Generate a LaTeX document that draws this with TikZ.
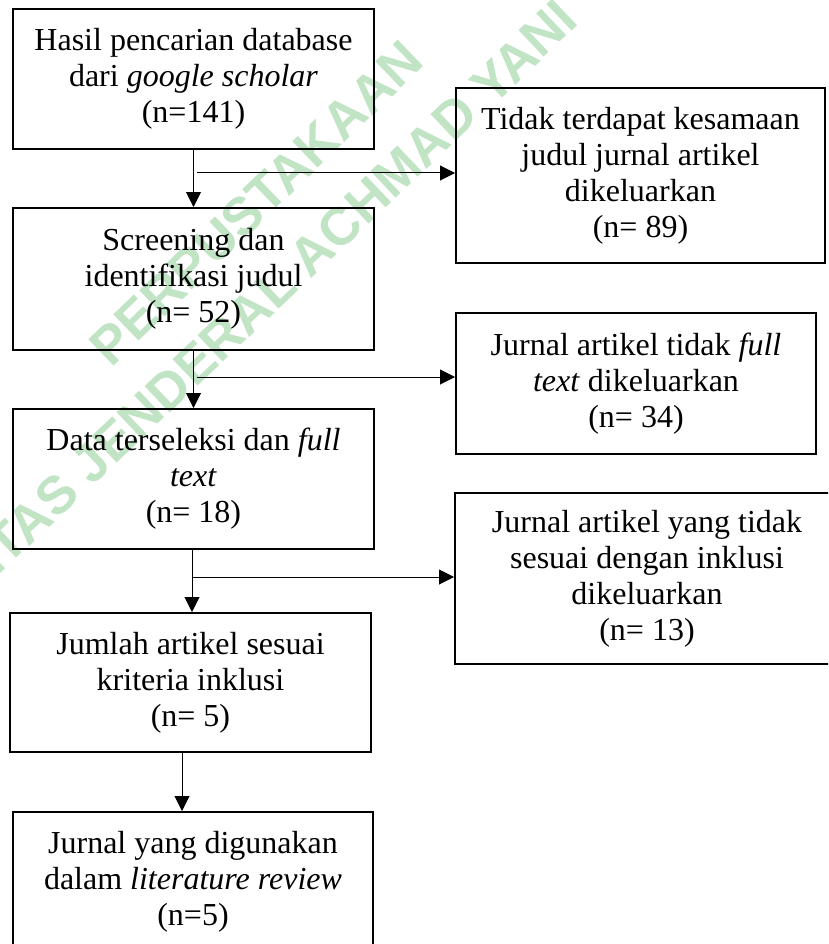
\documentclass[tikz,border=0pt]{standalone}
\usepackage{fontspec}
\setmainfont{Liberation Serif}
\newfontfamily\wmfont{Liberation Sans}
\usetikzlibrary{arrows.meta,calc}
\definecolor{wmgreen}{RGB}{192,228,196}
\tikzset{
  box/.style={draw, line width=2pt, align=center, inner sep=0pt,
    font=\fontsize{32}{36}\selectfont},
  arr/.style={line width=1pt, -{Triangle[length=15pt,width=15pt]}},
  wm/.style={text=wmgreen, inner sep=0pt, font=\wmfont\bfseries\fontsize{53}{60}\selectfont}
}
\begin{document}
\begin{tikzpicture}[x=1pt,y=-1pt]
\useasboundingbox (0,0) rectangle (828,944);
\clip (0,0) rectangle (828,944);
\fill[white] (0,0) rectangle (828,944);
% watermark
\node[wm, rotate=44] (wm1) at (256,203) {PERPUSTAKAAN};
\node[wm, rotate=43.5, anchor=east] (wm2) at (568,10) {UNIVERSITAS JENDERAL ACHMAD YANI};
% main boxes
\node[box, minimum width=361, minimum height=140] (b1) at (193.5,79)
  {Hasil pencarian database\\dari \textit{google scholar}\\(n=141)};
\node[box, minimum width=361, minimum height=142] (b2) at (193.5,279)
  {Screening dan\\identifikasi judul\\(n= 52)};
\node[box, minimum width=361, minimum height=140] (b3) at (193.5,479)
  {Data terseleksi dan \textit{full}\\\textit{text}\\(n= 18)};
\node[box, minimum width=361, minimum height=139] (b4) at (190.5,682.5)
  {Jumlah artikel sesuai\\kriteria inklusi\\(n= 5)};
\node[box, minimum width=360, minimum height=140] (b5) at (193,882)
  {Jurnal yang digunakan\\dalam \textit{literature review}\\(n=5)};
% side boxes
\node[box, minimum width=369, minimum height=175] (r1) at (640.5,175.5)
  {Tidak terdapat kesamaan\\judul jurnal artikel\\dikeluarkan\\(n= 89)};
\node[box, minimum width=360, minimum height=141] (r2) at (636,383.5)
  {Jurnal artikel tidak \textit{full}\\\textit{text} dikeluarkan\\(n= 34)};
\node[box, minimum width=384, minimum height=171] (r3) at (647,578.5)
  {Jurnal artikel yang tidak\\sesuai dengan inklusi\\dikeluarkan\\(n= 13)};
% connector points
\coordinate (j1) at (197,173);
\coordinate (j2) at (197,377);
\coordinate (j3) at (193,577);
\coordinate (c3) at ($(b3.south)+(-1.5,0)$);
\coordinate (c4) at ($(b4.south)+(-8.5,0)$);
% vertical arrows
\draw[arr] (b1.south) -- (b2.north);
\draw[arr] (b2.south) -- (b3.north);
\draw[arr] (c3) -- (c3 |- b4.north);
\draw[arr] (c4) -- (c4 |- b5.north);
% branch arrows
\draw[arr] (j1) -- (j1 -| r1.west);
\draw[arr] (j2) -- (j2 -| r2.west);
\draw[arr] (j3) -- (j3 -| r3.west);
\end{tikzpicture}
\end{document}
